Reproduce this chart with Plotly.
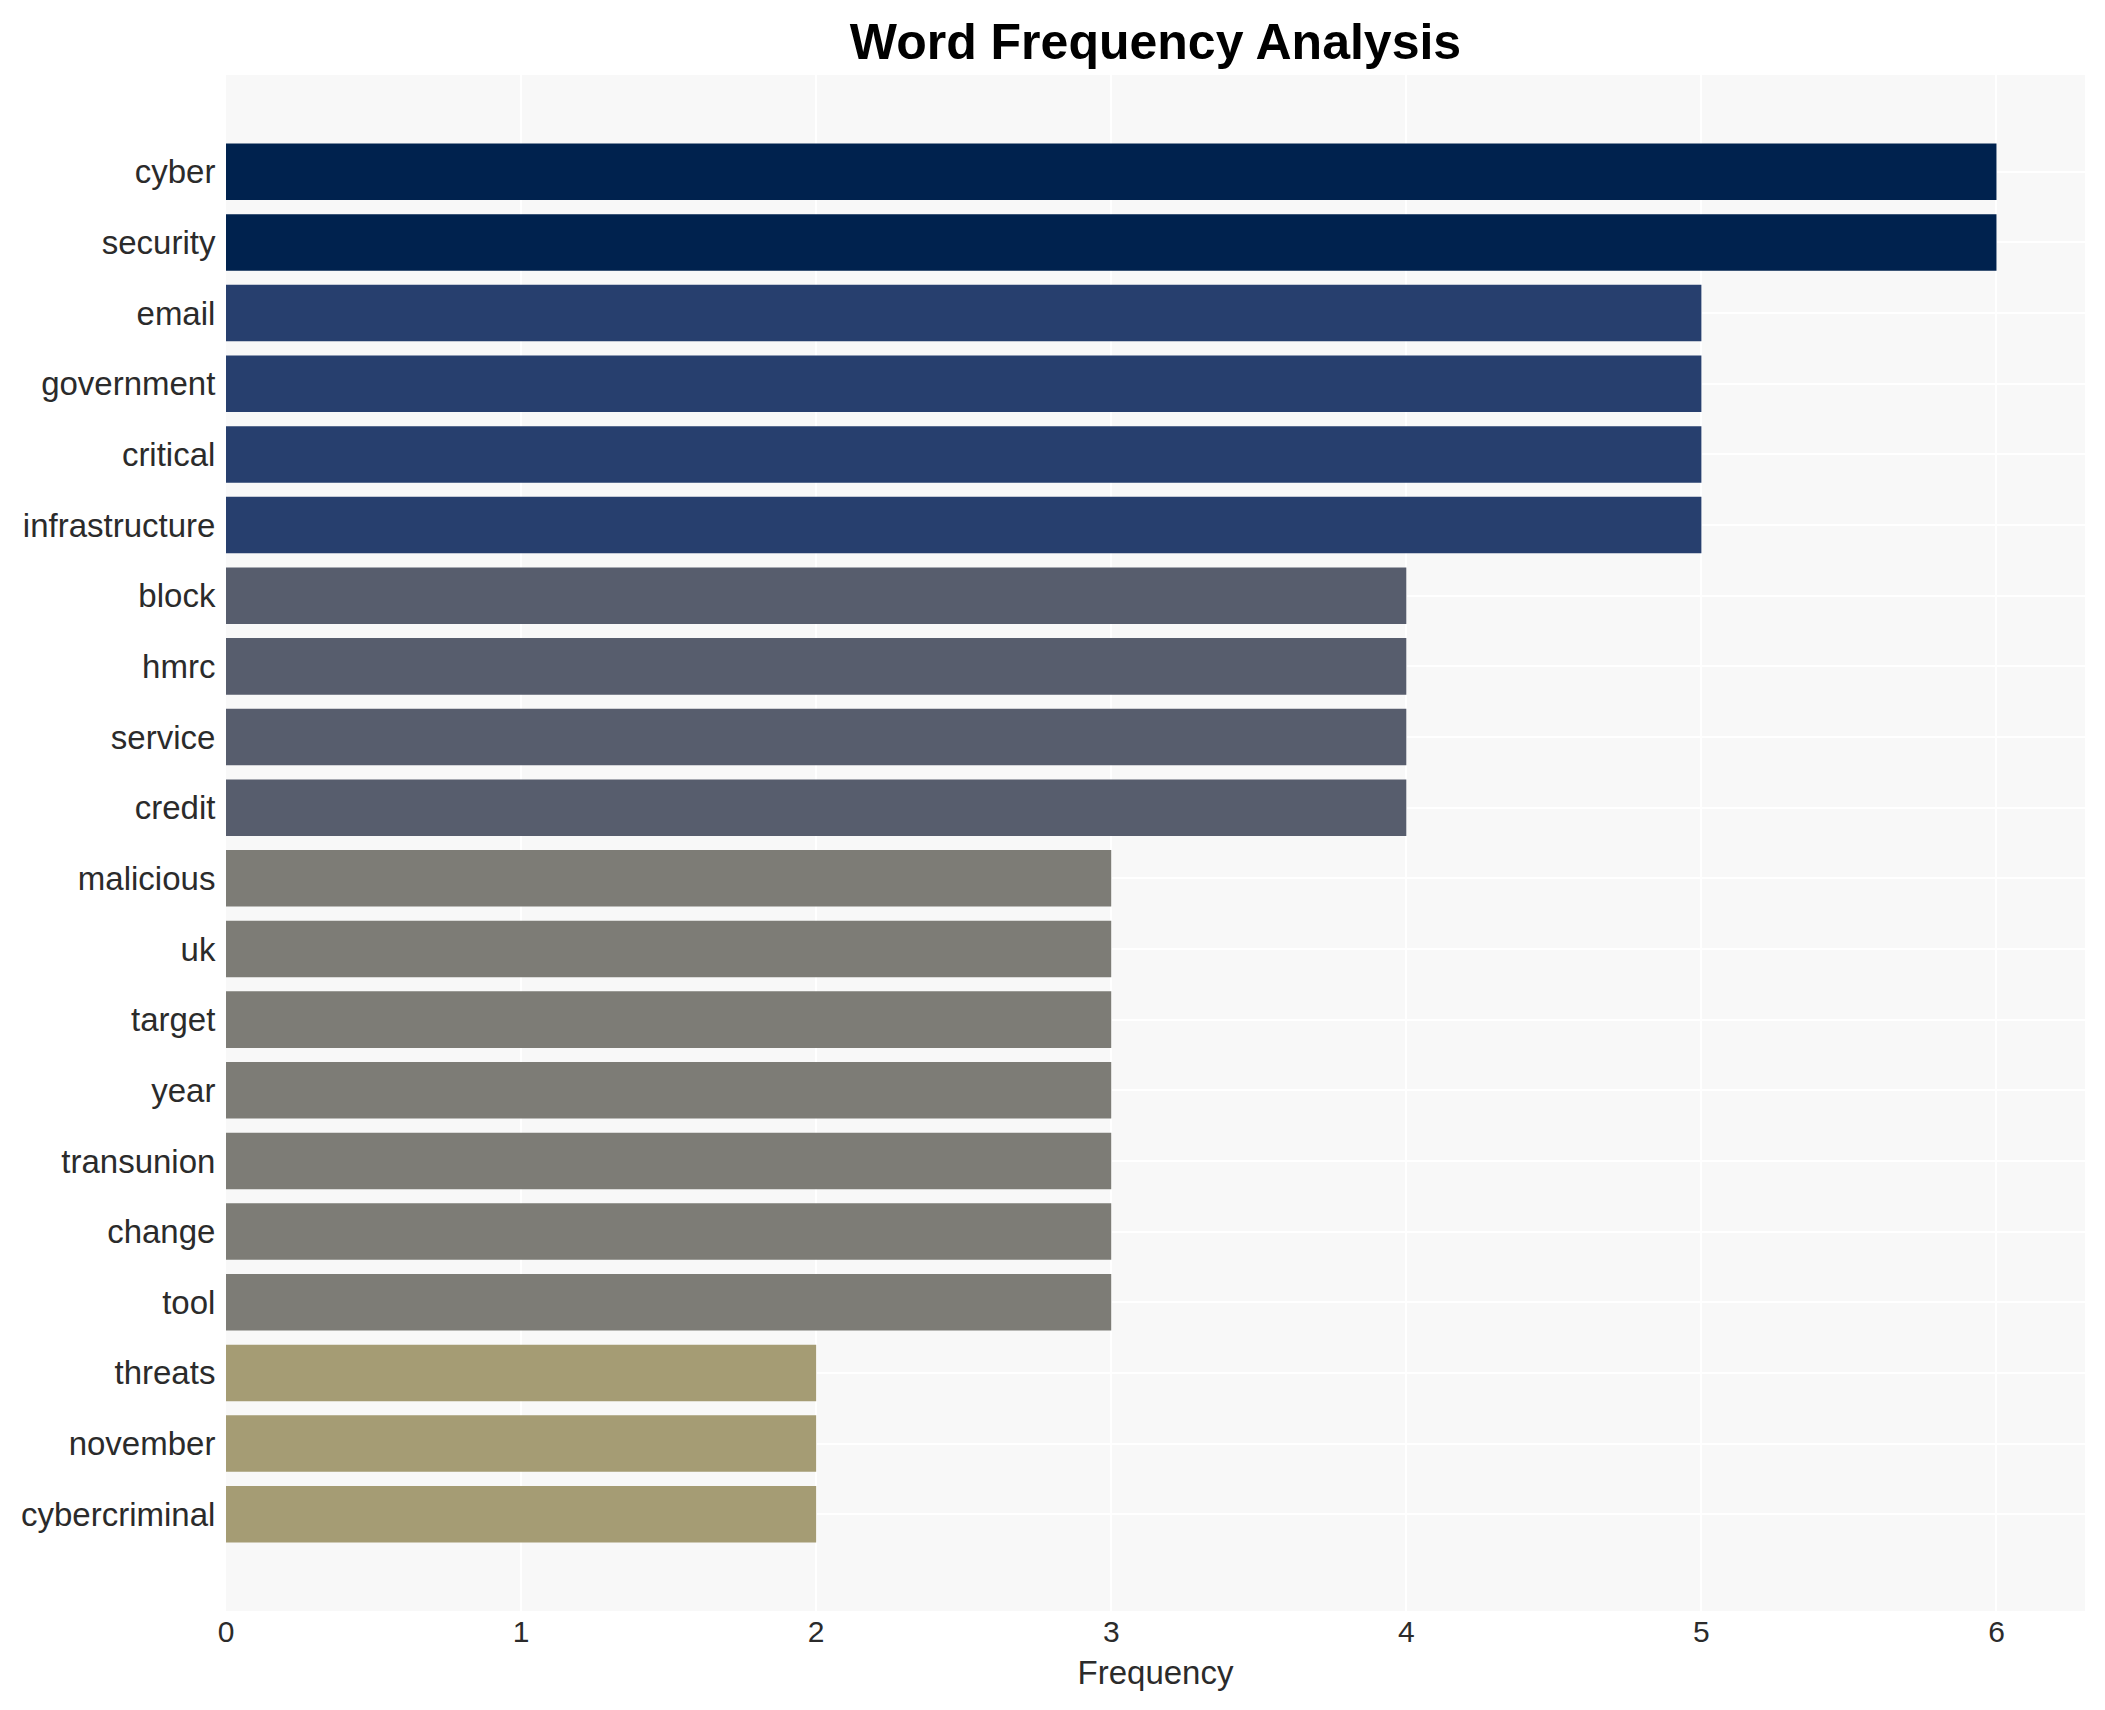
import plotly.graph_objects as go

words = ["cyber", "security", "email", "government", "critical", "infrastructure",
         "block", "hmrc", "service", "credit", "malicious", "uk", "target", "year",
         "transunion", "change", "tool", "threats", "november", "cybercriminal"]
counts = [6, 6, 5, 5, 5, 5, 4, 4, 4, 4, 3, 3, 3, 3, 3, 3, 3, 2, 2, 2]

FONT = "Arial, Liberation Sans, sans-serif"

fig = go.Figure(go.Bar(
    x=counts,
    y=words,
    orientation="h",
    marker=dict(color=counts, colorscale="Cividis_r", cmin=0, cmax=6, line=dict(width=0)),
    showlegend=False,
))

fig.update_layout(
    width=2105,
    height=1710,
    margin=dict(l=218, r=28, t=67, b=107, autoexpand=False),
    paper_bgcolor="white",
    plot_bgcolor="#f8f8f8",
    bargap=0.2,
    font=dict(family=FONT, size=33, color="#2b2b2b"),
    title=dict(
        text="<b>Word Frequency Analysis</b>",
        x=0.5, xref="paper", xanchor="center",
        y=1 - 33 / 1710, yref="container", yanchor="middle",
        font=dict(family=FONT, size=50, color="black"),
    ),
    xaxis=dict(
        title=dict(text="Frequency", font=dict(size=33), standoff=13),
        range=[0, 6.3],
        tickmode="array",
        tickvals=[0, 1, 2, 3, 4, 5, 6],
        showgrid=True, gridcolor="white", gridwidth=1.5,
        zeroline=False, showline=False, automargin=False,
        ticks="", tickfont=dict(size=30),
    ),
    yaxis=dict(
        type="category",
        categoryorder="array",
        categoryarray=words,
        range=[len(words) - 1 + 1.37, -1.37],
        autorange=False,
        showgrid=True, gridcolor="white", gridwidth=1.5,
        zeroline=False, showline=False, automargin=False,
        ticks="outside", ticklen=3, tickcolor="rgba(0,0,0,0)",
        tickfont=dict(size=33),
    ),
)

fig.write_html("out.html")
